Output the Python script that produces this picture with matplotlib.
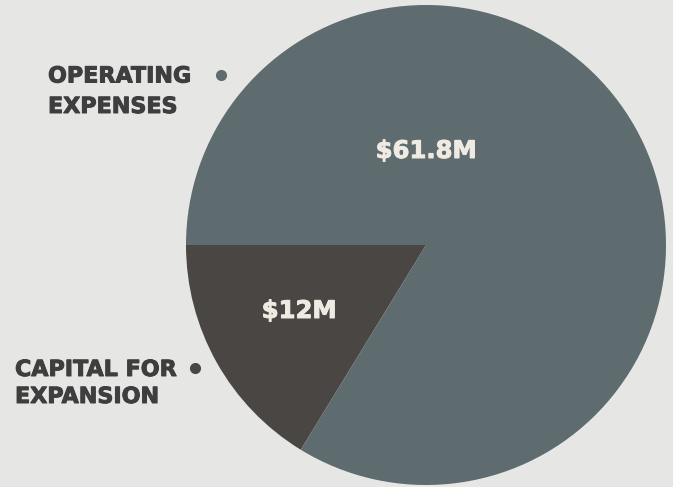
import matplotlib.pyplot as plt
import matplotlib.patheffects as pe

# --- data ---
categories = ['CAPITAL FOR\nEXPANSION', 'OPERATING\nEXPENSES']
values = [12, 61.8]
value_labels = ['$12M', '$61.8M']
colors = ['#4a4644', '#5e6b6f']

W, H = 673, 487
fig = plt.figure(figsize=(W / 100, H / 100), dpi=100)
fig.patch.set_facecolor('#e6e6e4')
ax = fig.add_axes([0, 0, 1, 1])

center = (426, 242)
radius = 240
ax.pie(values, colors=colors, startangle=180, counterclock=True,
       center=center, radius=radius, frame=True,
       wedgeprops=dict(linewidth=0))
ax.set_xlim(0, W)
ax.set_ylim(0, H)
ax.set_aspect('equal')
ax.axis('off')

font = dict(family='DejaVu Sans', fontweight='bold')

# value labels inside the slices (x, baseline y in pixels from top)
val_pos = [(299, 318), (426, 158)]
for (x, y), lab in zip(val_pos, value_labels):
    ax.text(x, H - y, lab, color='#efebe2', fontsize=17.5,
            ha='center', va='baseline', **font,
            path_effects=[pe.withStroke(linewidth=0.7, foreground='#efebe2')])

# category labels, one text per line, with a dot
cat_pos = [(15, [376, 403], (195, 368)), (48, [82.5, 113], (221, 75))]
for (x, ys, dot), name, col in zip(cat_pos, categories, colors):
    for y, line in zip(ys, name.split('\n')):
        ax.text(x, H - y, line, color='#3e3e3e', fontsize=16,
                ha='left', va='baseline', **font,
                path_effects=[pe.withStroke(linewidth=0.7, foreground='#3e3e3e')])
    ax.plot(dot[0], H - dot[1], 'o', color=col, markersize=8, markeredgewidth=0)

plt.savefig('out.png', dpi=100, facecolor=fig.get_facecolor())
plt.close()
